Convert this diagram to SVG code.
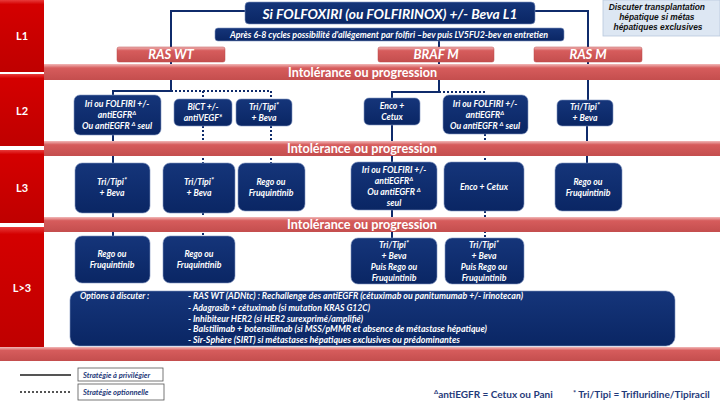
<svg xmlns="http://www.w3.org/2000/svg" width="720" height="405" viewBox="0 0 720 405">
<defs>
<linearGradient id="gRed" x1="0" y1="0" x2="0" y2="1"><stop offset="0" stop-color="#e83a3a"/><stop offset="0.06" stop-color="#d40000"/><stop offset="1" stop-color="#bf0000"/></linearGradient>
<linearGradient id="gBand" x1="0" y1="0" x2="0" y2="1"><stop offset="0" stop-color="#f2b8b8"/><stop offset="0.25" stop-color="#d65c5c"/><stop offset="1" stop-color="#c44e4e"/></linearGradient>
<linearGradient id="gBlue" x1="0" y1="0" x2="0" y2="1"><stop offset="0" stop-color="#15357a"/><stop offset="1" stop-color="#0a2664"/></linearGradient>
<style>
.col{fill:url(#gRed);}
.band{fill:url(#gBand);}
.sal{fill:url(#gBand);stroke:#b84a4a;stroke-width:0.5;}
.nb{fill:url(#gBlue);stroke:#7f93bf;stroke-width:0.6;}
.lab{font-family:Lato,"Liberation Sans",sans-serif;font-weight:bold;fill:#fff;font-size:11px;text-anchor:middle;}
.bt{font-family:Lato,"Liberation Sans",sans-serif;font-weight:bold;font-style:italic;fill:#fff;font-size:8.7px;text-anchor:middle;}
.bandt{font-family:Lato,"Liberation Sans",sans-serif;font-weight:bold;fill:#fff;font-size:14px;}
.salt{font-family:Lato,"Liberation Sans",sans-serif;font-weight:bold;font-style:italic;fill:#fff;font-size:13px;text-anchor:middle;}
.opt{font-family:Lato,"Liberation Sans",sans-serif;font-weight:bold;font-style:italic;fill:#fff;font-size:8.5px;}
.sup{font-size:6px;}
.st{font-size:7.5px;}
.solid{fill:none;stroke:#0f2b6b;stroke-width:2;}
.dot{fill:none;stroke:#0f2b6b;stroke-width:2;stroke-dasharray:2 2;}
.leg{font-family:Lato,"Liberation Sans",sans-serif;font-weight:bold;font-style:italic;fill:#1f3a7a;font-size:7.5px;}
.foot{font-family:Lato,"Liberation Sans",sans-serif;font-weight:bold;fill:#1f3a7a;font-size:10px;}
</style>
</defs>
<rect width="720" height="405" fill="#fff"/>

<g id="levels">
<rect class="col" x="0" y="0" width="44" height="72"/>
<rect class="col" x="0" y="74" width="44" height="72"/>
<rect class="col" x="0" y="150" width="44" height="73"/>
<rect class="col" x="0" y="227" width="44" height="120"/>
<text class="lab" x="22" y="40">L1</text>
<text class="lab" x="22" y="115">L2</text>
<text class="lab" x="22" y="192">L3</text>
<text class="lab" x="22" y="292">L&gt;3</text>
</g>

<g id="connectors">
<path class="solid" d="M245 11 H171 V91 H113 V96"/>
<path class="dot" d="M171 91 H271 V99"/>
<path class="dot" d="M203 91 V99"/>
<path class="solid" d="M535 11 H588 V100"/>
<path class="solid" d="M439 41 V92 H392 V98"/>
<path class="dot" d="M439 92 H484 V96"/>
<path class="solid" d="M113 135 V163"/>
<path class="dot" d="M203 126 V163"/>
<path class="dot" d="M271 126 V163"/>
<path class="solid" d="M392 125 V162"/>
<path class="dot" d="M485 134 V162"/>
<path class="solid" d="M587 126 V163"/>
<path class="solid" d="M113 213 V236"/>
<path class="dot" d="M203 213 V236"/>
<path class="solid" d="M392 210 V238"/>
<path class="dot" d="M485 211 V238"/>
</g>

<g id="bands">
<rect class="band" x="44" y="64" width="676" height="16"/>
<text class="bandt" x="288" y="77" textLength="149" lengthAdjust="spacingAndGlyphs">Intolérance ou progression</text>
<rect class="band" x="44" y="141" width="676" height="15"/>
<text class="bandt" x="287" y="153" textLength="150" lengthAdjust="spacingAndGlyphs">Intolérance ou progression</text>
<rect class="band" x="44" y="217" width="676" height="15"/>
<text class="bandt" x="287" y="229" textLength="150" lengthAdjust="spacingAndGlyphs">Intolérance ou progression</text>
<rect class="band" x="0" y="347" width="720" height="14"/>
</g>

<g id="title">
<rect class="nb" x="245" y="2" width="290" height="22" rx="4"/>
<text class="salt" x="390" y="19" font-size="16" textLength="255" lengthAdjust="spacingAndGlyphs">Si FOLFOXIRI (ou FOLFIRINOX) +/- Beva L1</text>
</g>
<g id="subtitle">
<rect class="nb" x="215" y="28" width="349" height="13" rx="3"/>
<text class="bt" x="389" y="37.5" font-size="8" textLength="318" lengthAdjust="spacingAndGlyphs">Après 6-8 cycles possibilité d'allégement par folfiri –bev puis LV5FU2-bev en entretien</text>
</g>
<g id="discuter">
<rect x="603" y="0" width="117" height="36" fill="#dde7f3" stroke="#b8c8dc" stroke-width="0.8"/>
<text font-family="'Liberation Sans',Arial,sans-serif" font-weight="bold" font-style="italic" font-size="8.4" fill="#111" text-anchor="middle">
<tspan x="658" y="10">Discuter transplantation</tspan>
<tspan x="658" y="20">hépatique si métas</tspan>
<tspan x="658" y="30">hépatiques exclusives</tspan>
</text>
</g>
<g id="raswt"><rect class="sal" x="117" y="47" width="108" height="15" rx="2"/><text class="salt" x="171" y="59">RAS WT</text></g>
<g id="brafm"><rect class="sal" x="378" y="47" width="116" height="15" rx="2"/><text class="salt" x="436" y="59">BRAF M</text></g>
<g id="rasm"><rect class="sal" x="534" y="47" width="108" height="15" rx="2"/><text class="salt" x="588" y="59">RAS M</text></g>

<g id="l2a"><rect class="nb" x="74" y="95" width="87" height="40" rx="6"/>
<text class="bt"><tspan x="117" y="107">Iri ou FOLFIRI +/-</tspan><tspan x="117" y="118">antiEGFR<tspan class="sup" dy="-3">Δ</tspan></tspan><tspan x="117" y="129">Ou antiEGFR <tspan class="sup" dy="-3">Δ</tspan><tspan dy="3"> seul</tspan></tspan></text></g>
<g id="l2b"><rect class="nb" x="174" y="99" width="58" height="27" rx="5"/>
<text class="bt"><tspan x="203" y="110">BiCT +/-</tspan><tspan x="203" y="121">antiVEGF*</tspan></text></g>
<g id="l2c"><rect class="nb" x="236" y="99" width="56" height="27" rx="5"/>
<text class="bt"><tspan x="264" y="110">Tri/Tipi<tspan class="st" dy="-2">*</tspan></tspan><tspan x="264" y="121">+ Beva</tspan></text></g>
<g id="l2d"><rect class="nb" x="364" y="98" width="56" height="27" rx="5"/>
<text class="bt"><tspan x="392" y="109">Enco +</tspan><tspan x="392" y="120">Cetux</tspan></text></g>
<g id="l2e"><rect class="nb" x="443" y="95" width="85" height="39" rx="6"/>
<text class="bt"><tspan x="485" y="107">Iri ou FOLFIRI +/-</tspan><tspan x="485" y="118">antiEGFR<tspan class="sup" dy="-3">Δ</tspan></tspan><tspan x="485" y="129">Ou antiEGFR <tspan class="sup" dy="-3">Δ</tspan><tspan dy="3"> seul</tspan></tspan></text></g>
<g id="l2f"><rect class="nb" x="557" y="100" width="56" height="26" rx="5"/>
<text class="bt"><tspan x="585" y="110">Tri/Tipi<tspan class="st" dy="-2">*</tspan></tspan><tspan x="585" y="121">+ Beva</tspan></text></g>

<g id="l3a"><rect class="nb" x="75" y="163" width="75" height="50" rx="7"/>
<text class="bt"><tspan x="112" y="185">Tri/Tipi<tspan class="st" dy="-2">*</tspan></tspan><tspan x="112" y="196">+ Beva</tspan></text></g>
<g id="l3b"><rect class="nb" x="163" y="163" width="72" height="50" rx="7"/>
<text class="bt"><tspan x="199" y="185">Tri/Tipi<tspan class="st" dy="-2">*</tspan></tspan><tspan x="199" y="196">+ Beva</tspan></text></g>
<g id="l3c"><rect class="nb" x="238" y="163" width="67" height="48" rx="7"/>
<text class="bt"><tspan x="271" y="185">Rego ou</tspan><tspan x="271" y="196">Fruquintinib</tspan></text></g>
<g id="l3d"><rect class="nb" x="351" y="162" width="86" height="48" rx="7"/>
<text class="bt"><tspan x="394" y="173">Iri ou FOLFIRI +/-</tspan><tspan x="394" y="184">antiEGFR<tspan class="sup" dy="-3">Δ</tspan></tspan><tspan x="394" y="195">Ou antiEGFR <tspan class="sup" dy="-3">Δ</tspan></tspan><tspan x="394" y="206">seul</tspan></text></g>
<g id="l3e"><rect class="nb" x="444" y="162" width="80" height="49" rx="7"/>
<text class="bt" x="484" y="190">Enco + Cetux</text></g>
<g id="l3f"><rect class="nb" x="555" y="163" width="67" height="48" rx="7"/>
<text class="bt"><tspan x="588" y="185">Rego ou</tspan><tspan x="588" y="196">Fruquintinib</tspan></text></g>

<g id="l4a"><rect class="nb" x="75" y="236" width="75" height="47" rx="7"/>
<text class="bt"><tspan x="112" y="257">Rego ou</tspan><tspan x="112" y="268">Fruquintinib</tspan></text></g>
<g id="l4b"><rect class="nb" x="163" y="236" width="72" height="47" rx="7"/>
<text class="bt"><tspan x="199" y="257">Rego ou</tspan><tspan x="199" y="268">Fruquintinib</tspan></text></g>
<g id="l4c"><rect class="nb" x="351" y="238" width="86" height="46" rx="7"/>
<text class="bt"><tspan x="394" y="248">Tri/Tipi<tspan class="st" dy="-2">*</tspan></tspan><tspan x="394" y="259">+ Beva</tspan><tspan x="394" y="270">Puis Rego ou</tspan><tspan x="394" y="281">Fruquintinib</tspan></text></g>
<g id="l4d"><rect class="nb" x="445" y="238" width="79" height="46" rx="7"/>
<text class="bt"><tspan x="484" y="248">Tri/Tipi<tspan class="st" dy="-2">*</tspan></tspan><tspan x="484" y="259">+ Beva</tspan><tspan x="484" y="270">Puis Rego ou</tspan><tspan x="484" y="281">Fruquintinib</tspan></text></g>

<g id="options"><rect class="nb" x="70" y="291" width="605" height="55" rx="9"/>
<text class="opt" x="80" y="299">Options à discuter :</text>
<text class="opt" x="188" y="299" textLength="335" lengthAdjust="spacingAndGlyphs">- RAS WT (ADNtc) : Rechallenge des antiEGFR (cétuximab ou panitumumab +/- irinotecan)</text>
<text class="opt" x="188" y="310.5" textLength="182" lengthAdjust="spacingAndGlyphs">- Adagrasib + cétuximab (si mutation KRAS G12C)</text>
<text class="opt" x="188" y="321.5" textLength="175" lengthAdjust="spacingAndGlyphs">- Inhibiteur HER2 (si HER2 surexprimé/amplifié)</text>
<text class="opt" x="188" y="332" textLength="299" lengthAdjust="spacingAndGlyphs">- Balstilimab + botensilimab (si MSS/pMMR et absence de métastase hépatique)</text>
<text class="opt" x="188" y="343" textLength="272" lengthAdjust="spacingAndGlyphs">- Sir-Sphère (SIRT)  si métastases hépatiques exclusives ou prédominantes</text>
</g>

<g id="legend">
<line x1="20" y1="375" x2="71" y2="375" stroke="#555" stroke-width="2"/>
<rect x="78" y="368" width="85" height="13" fill="#fff" stroke="#555" stroke-width="0.8"/>
<text class="leg" x="83" y="377.5">Stratégie à privilégier</text>
<line x1="20" y1="392" x2="71" y2="392" stroke="#555" stroke-width="2" stroke-dasharray="2 2"/>
<rect x="78" y="384" width="86" height="16" fill="#fff" stroke="#555" stroke-width="0.8"/>
<text class="leg" x="83" y="394.5">Stratégie optionnelle</text>
</g>
<g id="footnotes">
<text class="foot" x="434" y="398"><tspan class="sup" dy="-4">Δ</tspan><tspan dy="4">antiEGFR = Cetux ou Pani</tspan></text>
<text class="foot" x="573" y="398"><tspan class="st" dy="-2">*</tspan><tspan dy="2"> Tri/Tipi = Trifluridine/Tipiracil</tspan></text>
</g>
</svg>
